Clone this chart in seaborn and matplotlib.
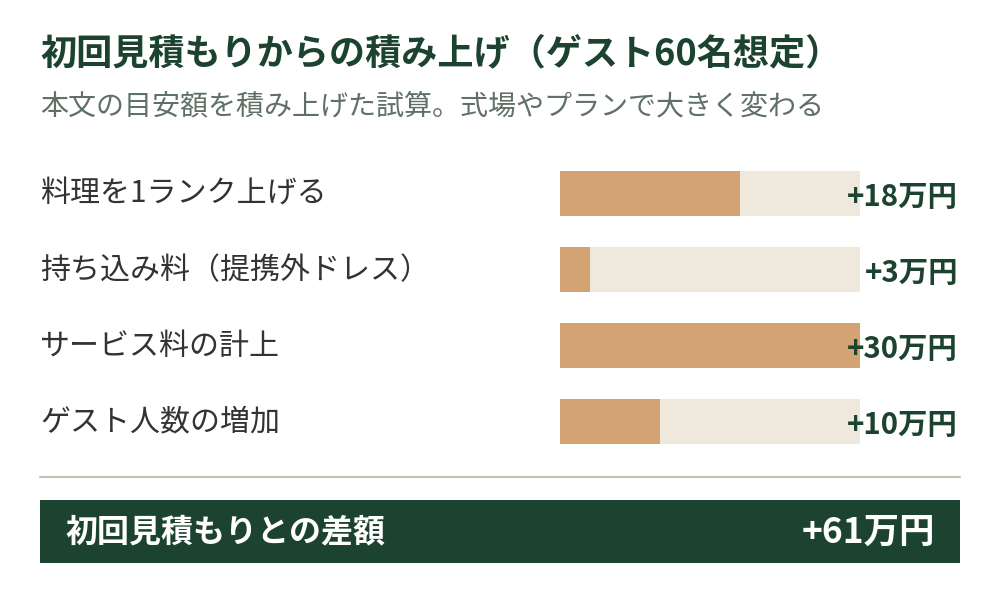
import pandas as pd
import seaborn as sns
import matplotlib.pyplot as plt
from matplotlib.patches import Rectangle
from matplotlib.lines import Line2D
from matplotlib.transforms import blended_transform_factory

# ----- data -----
items = ['料理を1ランク上げる', '持ち込み料（提携外ドレス）', 'サービス料の計上', 'ゲスト人数の増加']
amounts = [18, 3, 30, 10]          # 万円
scale_max = 30                     # full track length
total_label = '初回見積もりとの差額'
total_amount = 61

title = '初回見積もりからの積み上げ（ゲスト60名想定）'
subtitle = '本文の目安額を積み上げた試算。式場やプランで大きく変わる'

# ----- colours -----
green = '#1c4230'
bar_col = '#d4a373'
track_col = '#efe8dc'
sub_col = '#5f7066'
label_col = '#333333'
rule_col = '#c9c1b6'

sns.set_theme(style='white')
plt.rcParams['font.family'] = ['Noto Sans CJK JP', 'DejaVu Sans']

df = pd.DataFrame({'item': items, 'amount': amounts, 'track': [scale_max] * len(items)})

fig = plt.figure(figsize=(10, 6), dpi=100)
fig.patch.set_facecolor('white')

ax = fig.add_axes([0.56, 0.2342, 0.30, 0.5067])
sns.barplot(data=df, x='track', y='item', color=track_col, width=0.58,
            saturation=1, linewidth=0, ax=ax, orient='h')
sns.barplot(data=df, x='amount', y='item', color=bar_col, width=0.58,
            saturation=1, linewidth=0, ax=ax, orient='h')
ax.set_xlim(0, scale_max)
ax.set_ylim(len(items) - 0.5, -0.5)
ax.axis('off')

tr = blended_transform_factory(fig.transFigure, ax.transData)
for i, (name, val) in enumerate(zip(items, amounts)):
    ax.text(0.04, i + 0.01, name, transform=tr, ha='left', va='center',
            fontsize=21.6, color=label_col, clip_on=False)
    ax.text(0.958, i + 0.04, f'+{val}万円', transform=tr, ha='right', va='center',
            fontsize=21.2, fontweight='bold', color=green, clip_on=False)

# title block
fig.text(0.04, 1 - 54 / 600, title, ha='left', va='center',
         fontsize=26, fontweight='bold', color=green)
fig.text(0.04, 1 - 106 / 600, subtitle, ha='left', va='center',
         fontsize=20.2, color=sub_col)

# separator and total box
fig.add_artist(Line2D([0.04, 0.96], [1 - 477 / 600] * 2, transform=fig.transFigure,
                      color=rule_col, lw=1.6))
fig.add_artist(Rectangle((0.04, 1 - 563 / 600), 0.92, 63 / 600,
                         transform=fig.transFigure, facecolor=green, edgecolor='none'))
fig.text(0.065, 1 - 532 / 600, total_label, ha='left', va='center',
         fontsize=23, fontweight='bold', color='white')
fig.text(0.935, 1 - 532 / 600, f'+{total_amount}万円', ha='right', va='center',
         fontsize=25.5, fontweight='bold', color='white')

fig.savefig('out.png', dpi=100, facecolor='white')
